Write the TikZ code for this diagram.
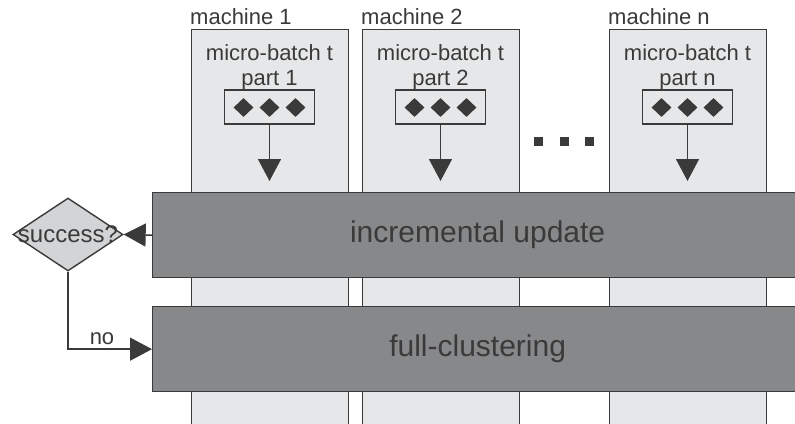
\documentclass[tikz,border=0pt]{standalone}
\usepackage{fontspec}
\setmainfont{Liberation Sans}
\usetikzlibrary{shapes.geometric,arrows.meta}
\definecolor{colfill}{HTML}{E6E7E8}
\definecolor{barfill}{HTML}{87888A}
\definecolor{decfill}{HTML}{D3D4D6}
\definecolor{ink}{HTML}{3A3A3A}
\begin{document}
\begin{tikzpicture}[x=1pt,y=-1pt,
  col/.style={draw=ink, line width=1.4pt, fill=colfill, minimum width=157pt, minimum height=420pt, anchor=north west, inner sep=0pt},
  bar/.style={draw=ink, line width=1.3pt, fill=barfill, minimum width=650pt, minimum height=85pt, anchor=north west, inner sep=0pt, font=\fontsize{30}{36}\selectfont, text=ink},
  minibox/.style={draw=ink, line width=1.4pt, fill=colfill, minimum width=90pt, minimum height=34pt, inner sep=0pt},
  gem/.style={diamond, fill=ink, minimum width=20pt, minimum height=19pt, inner sep=0pt},
  arr/.style={draw=ink, line width=1.5pt, -{Triangle[length=22pt,width=23pt]}},
  lbl/.style={font=\fontsize{22}{26}\selectfont, text=ink, inner sep=0pt},
  sq/.style={fill=ink, minimum size=9pt, inner sep=0pt},
  dec/.style={diamond, draw=ink, line width=1.4pt, fill=decfill, minimum width=110pt, minimum height=73pt, inner sep=0pt, font=\fontsize{24}{28}\selectfont, text=ink}
]
\useasboundingbox (0,0) rectangle (795,423);
\clip (0,0) rectangle (795,423);
\fill[white] (0,0) rectangle (795,423);

% machine columns
\node[col] (m1) at (191,29) {};
\node[col] (m2) at (362,29) {};
\node[col] (mn) at (609,29) {};

% machine labels
\node[lbl, anchor=base west] (l1) at (190,24) {machine 1};
\node[lbl, anchor=base west] (l2) at (361,24) {machine 2};
\node[lbl, anchor=base west] (ln) at (608,24) {machine n};

% micro-batch texts
\node[lbl, anchor=base] (a1) at (269.5,60) {micro-batch t};
\node[lbl, anchor=base] (p1) at (269.5,85) {part 1};
\node[lbl, anchor=base] (a2) at (440.5,60) {micro-batch t};
\node[lbl, anchor=base] (p2) at (440.5,85) {part 2};
\node[lbl, anchor=base] (an) at (687.5,60) {micro-batch t};
\node[lbl, anchor=base] (pn) at (687.5,85) {part n};

% mini boxes with diamonds
\node[minibox] (b1) at (269.5,107) {};
\node[minibox] (b2) at (440.5,107) {};
\node[minibox] (bn) at (687.5,107) {};
\foreach \c/\n in {269.5/1,440.5/2,687.5/n}{
  \node[gem] (g\n a) at (\c-26,107.5) {};
  \node[gem] (g\n b) at (\c,107.5) {};
  \node[gem] (g\n c) at (\c+26,107.5) {};
}

% dots
\node[sq] (d1) at (538.5,141.5) {};
\node[sq] (d2) at (564,141.5) {};
\node[sq] (d3) at (589.5,141.5) {};

% arrow ends
\coordinate (e1) at (269.5,181);
\coordinate (e2) at (440.5,181);
\coordinate (en) at (687.5,181);
\draw[arr] (b1) -- (e1);
\draw[arr] (b2) -- (e2);
\draw[arr] (bn) -- (en);

% bars
\node[bar] (inc) at (152,192) {incremental update};
\node[bar] (full) at (152,306) {full-clustering};

% decision
\node[dec] (dq) at (68,234.5) {\makebox[0pt]{success?}};
\draw[arr] (inc.west) -- (dq.east);
\draw[arr] (dq.south) |- (full.west);
\node[font=\fontsize{22}{26}\selectfont, text=ink, anchor=base, inner sep=0pt] (no) at (102,344) {no};
\end{tikzpicture}
\end{document}
